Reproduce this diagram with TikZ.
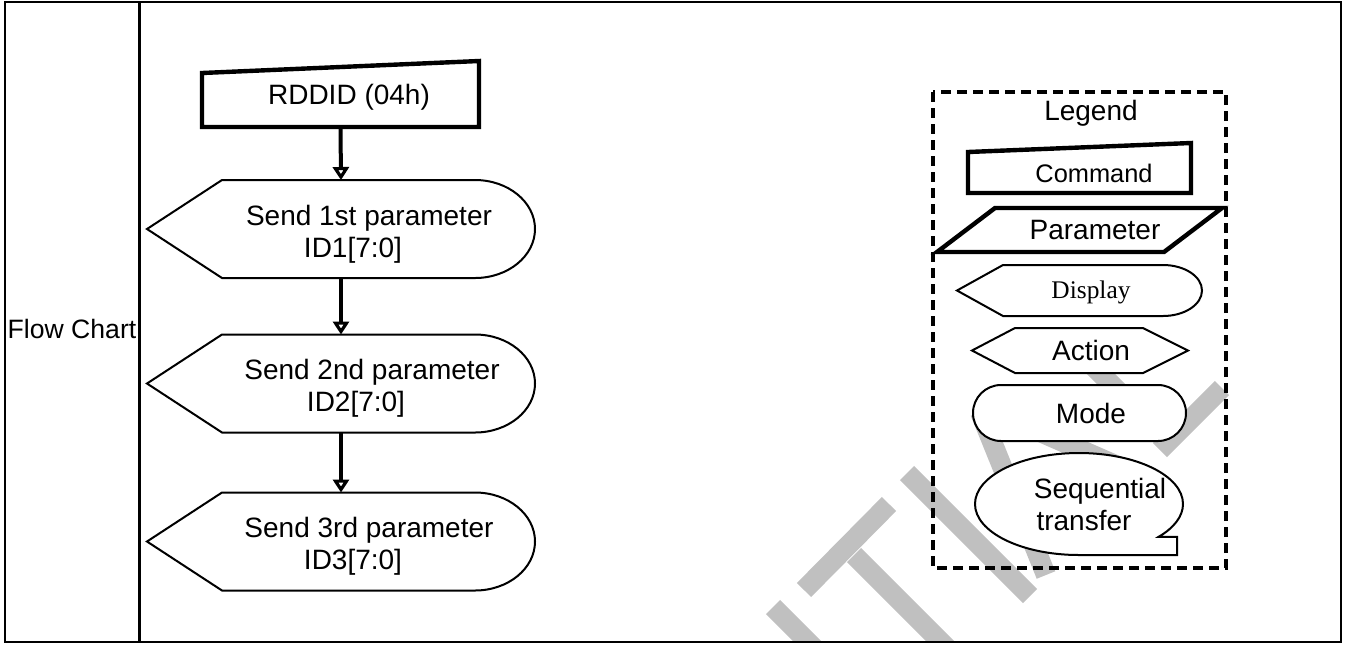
\documentclass[tikz,border=0pt]{standalone}
\usepackage{fontspec}
\setmainfont{Liberation Sans}
\newfontfamily\timesfont{Liberation Serif}
\usetikzlibrary{positioning,calc,arrows.meta}

\definecolor{wmgray}{RGB}{192,192,192}

\tikzset{
  shapenode/.style={draw=none, inner sep=0pt, outer sep=0pt},
  txt/.style={font=\fontsize{14}{16}\selectfont, align=center, inner sep=0pt},
  smalltxt/.style={font=\fontsize{12.7}{15}\selectfont, inner sep=0pt},
  flowarrow/.style={line width=2pt, -{Triangle[open, fill=white, length=6.5pt, width=8pt, line width=1.6pt]}},
  thinline/.style={line width=1pt, fill=white},
  thickline/.style={line width=2.2pt, fill=white},
  wmstroke/.style={line width=10pt, draw=wmgray},
}

% outline of a display symbol: node, left inset, right inset
\newcommand{\displayoutline}[3]{%
  \draw[thinline] (#1.west) -- ([xshift=#2]#1.north west) -- ([xshift=-#3]#1.north east)
    .. controls ($([xshift=-#3]#1.north east)!0.552!(#1.north east)$) and ($(#1.east)!0.552!(#1.north east)$) .. (#1.east)
    .. controls ($(#1.east)!0.552!(#1.south east)$) and ($([xshift=-#3]#1.south east)!0.552!(#1.south east)$) .. ([xshift=-#3]#1.south east)
    -- ([xshift=#2]#1.south west) -- cycle;}
% outline of a command symbol: node, slant of the top edge
\newcommand{\commandoutline}[2]{%
  \draw[thickline] (#1.south west) -- ([yshift=-#2]#1.north west) -- ([yshift=#2]#1.north east) -- (#1.south east) -- cycle;}

\begin{document}
\begin{tikzpicture}[x=0.5pt, y=-0.5pt]
    \useasboundingbox (0,0) rectangle (1346,645);

    % Watermark
    \begin{scope}
        \clip (5,2) rectangle (1341,642);
        \draw[wmstroke] (773,607) -- (840,674);
        \draw[wmstroke] (804,590) -- (889,504);
        \draw[wmstroke] (854,555) -- (950,651);
        \draw[wmstroke] (907,473) -- (1030,596);
        \draw[wmstroke] (980,412) -- (1046,575);
        \draw[wmstroke] (985,408) -- (1150,480);
        \draw[wmstroke] (1085,358) -- (1170,443);
        \draw[wmstroke] (1160,450) -- (1222,388);
    \end{scope}

    % Table frame
    \draw[line width=1.1pt] (5,2) rectangle (1341,642);
    \draw[line width=1.1pt] (139.5,2) -- (139.5,642);
    \node[txt, font=\fontsize{13.3}{16}\selectfont] (flowlbl) at (72,329) {Flow Chart};

    % Flow chart
    \node[shapenode, minimum width=138.5pt, minimum height=30pt] (cmd) at (340.5,97) {};
    \commandoutline{cmd}{3pt}
    \node[txt] (cmdtxt) at ([xshift=4.25pt]cmd.center) {RDDID (04h)};

    \node[shapenode, minimum width=194pt, minimum height=49pt] (disp1) at (341,229) {};
    \node[shapenode, minimum width=194pt, minimum height=49pt] (disp2) at (341,383.5) {};
    \node[shapenode, minimum width=194pt, minimum height=49pt] (disp3) at (341,541.5) {};
    \displayoutline{disp1}{37.5pt}{30pt}
    \displayoutline{disp2}{37.5pt}{30pt}
    \displayoutline{disp3}{37.5pt}{30pt}
    \node[txt] (disp1txt) at ([xshift=14pt, yshift=-2.5pt]disp1.center) {Send 1st parameter\\ID1[7:0]\makebox[16pt]{}};
    \node[txt] (disp2txt) at ([xshift=15.5pt, yshift=-2.5pt]disp2.center) {Send 2nd parameter\\ID2[7:0]\makebox[16pt]{}};
    \node[txt] (disp3txt) at ([xshift=14pt, yshift=-2.5pt]disp3.center) {Send 3rd parameter\\ID3[7:0]\makebox[16pt]{}};

    \draw[flowarrow] (cmd.south) -- (disp1.north);
    \draw[flowarrow] (disp1.south) -- (disp2.north);
    \draw[flowarrow] (disp2.south) -- (disp3.north);

    % Legend
    \draw[line width=1.6pt, dash pattern=on 5pt off 3pt] (933,92) rectangle (1226,568);
    \node[txt] (legendtxt) at (1091,113) {Legend};

    \node[shapenode, minimum width=111.5pt, minimum height=22.75pt] (lcmd) at (1079.5,170.25) {};
    \commandoutline{lcmd}{2.25pt}
    \node[smalltxt] (lcmdtxt) at ([xshift=7.25pt, yshift=-1.5pt]lcmd.center) {Command};

    \node[shapenode, minimum width=142.5pt, minimum height=22pt] (lpar) at (1079.5,230) {};
    \draw[thickline] (lpar.south west) -- ([xshift=29pt]lpar.north west) -- (lpar.north east) -- ([xshift=-29pt]lpar.south east) -- cycle;
    \node[txt] (lpartxt) at ([xshift=7.75pt]lpar.center) {Parameter};

    \node[shapenode, minimum width=122.5pt, minimum height=25.5pt] (ldisp) at (1079.5,290.5) {};
    \displayoutline{ldisp}{23pt}{19.5pt}
    \node[smalltxt, font=\timesfont\fontsize{12.7}{15}\selectfont] (ldisptxt) at ([xshift=5.75pt, yshift=-1pt]ldisp.center) {Display};

    \node[shapenode, minimum width=108pt, minimum height=22.5pt] (lact) at (1080,350.5) {};
    \draw[thinline] (lact.west) -- ([xshift=21.5pt]lact.north west) -- ([xshift=-22.5pt]lact.north east) -- (lact.east)
        -- ([xshift=-22.5pt]lact.south east) -- ([xshift=21.5pt]lact.south west) -- cycle;
    \node[txt] (lacttxt) at ([xshift=5.5pt]lact.center) {Action};

    \node[draw, thinline, rounded corners=14pt, inner sep=0pt, minimum width=106.5pt, minimum height=28pt] (lmode) at (1079.5,413) {};
    \node[txt] (lmodetxt) at ([xshift=5.75pt]lmode.center) {Mode};

    \node[shapenode, minimum width=104pt, minimum height=51pt] (lseq) at (1079,504) {};
    \draw[thinline] (lseq.south) arc[start angle=-90, end angle=-400, x radius=52pt, y radius=25.5pt]
        -- ([shift={(49pt,-16.4pt)}]lseq.center) -- ([shift={(49pt,-25.5pt)}]lseq.center) -- cycle;
    \node[txt, font=\fontsize{14}{16}\selectfont] (lseqtxt) at ([xshift=10.5pt]lseq.center) {Sequential\\transfer\makebox[16pt]{}};
\end{tikzpicture}
\end{document}
